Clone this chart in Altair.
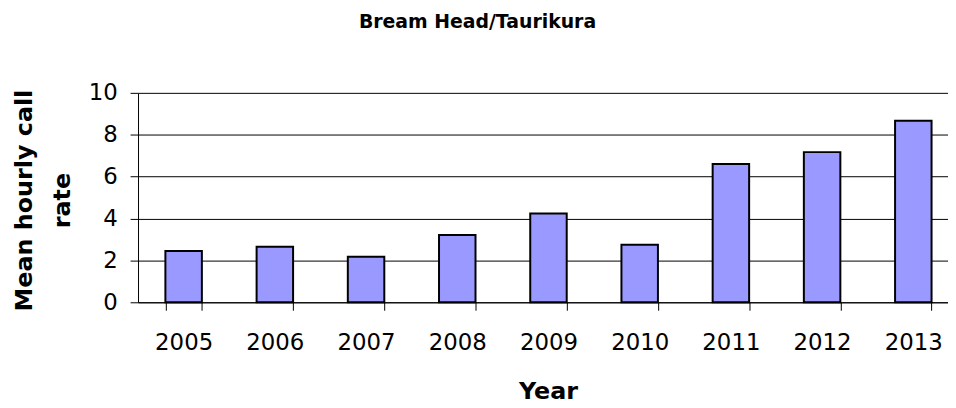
import altair as alt
import pandas as pd

years = ["2005", "2006", "2007", "2008", "2009", "2010", "2011", "2012", "2013"]
rates = [2.45, 2.65, 2.17, 3.21, 4.24, 2.75, 6.6, 7.17, 8.67]
y_ticks = [0, 2, 4, 6, 8, 10]

df = pd.DataFrame({"Year": years, "Rate": rates})

FONT = "DejaVu Sans"

chart = alt.Chart(df).mark_bar(
    fill="#9999FF", stroke="black", strokeWidth=2
).encode(
    x=alt.X(
        "Year:N",
        sort=years,
        scale=alt.Scale(range=[0, 827], paddingInner=0.6, paddingOuter=0.3),
        axis=alt.Axis(
            title="Year",
            labelAngle=0,
            labelFontSize=23,
            labelFont=FONT,
            labelColor="black",
            labelPadding=22,
            tickBand="extent",
            tickSize=8,
            tickColor="black",
            domainColor="black",
            titleFont=FONT,
            titleFontSize=24,
            titleFontWeight="bold",
            titleColor="black",
            titleX=413,
            titleY=97,
            titleAlign="center",
            titleBaseline="alphabetic",
            titleAngle=0,
            grid=False,
        ),
    ),
    y=alt.Y(
        "Rate:Q",
        scale=alt.Scale(domain=[0, 10], nice=False),
        axis=alt.Axis(
            title=["Mean hourly call", "rate"],
            values=y_ticks,
            labelFontSize=23,
            labelFont=FONT,
            labelColor="black",
            labelPadding=13,
            tickSize=8,
            tickColor="black",
            domainColor="black",
            gridColor="black",
            gridOpacity=1,
            titleFont=FONT,
            titleFontSize=24,
            titleFontWeight="bold",
            titleColor="black",
            titleAngle=-90,
            titleAlign="center",
            titleBaseline="alphabetic",
            titleLineHeight=38,
            titleX=-107,
            titleY=108,
        ),
    ),
).properties(
    width=816,
    height=211,
    autosize=alt.AutoSizeParams(type="none"),
    padding={"left": 131, "top": 84, "right": 0, "bottom": 104},
    title=alt.TitleParams(
        "Bream Head/Taurikura",
        font=FONT,
        fontSize=19,
        fontWeight="bold",
        color="black",
        anchor="middle",
        frame="group",
        dx=-66,
        dy=-5,
        baseline="alphabetic",
        offset=30,
    ),
).configure_view(stroke=None).configure_axis(
    domainWidth=1, tickWidth=1, gridWidth=1
)

chart.save("out.html", embed_options={"renderer": "svg", "actions": False})
